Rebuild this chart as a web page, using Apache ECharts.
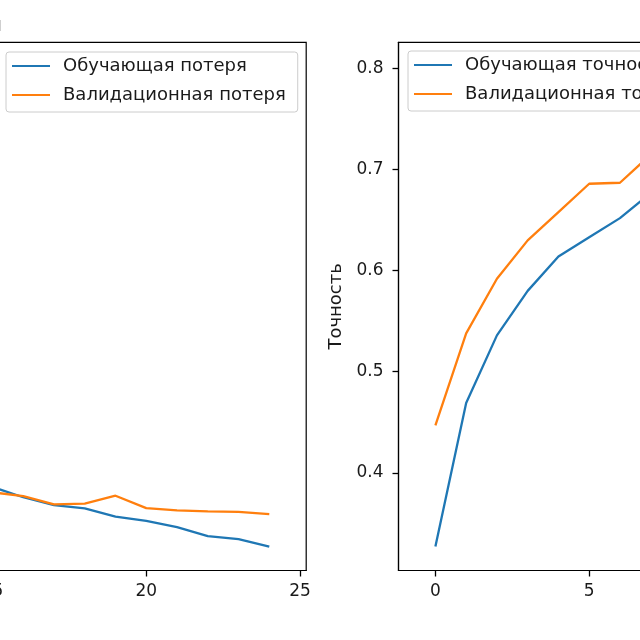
<!DOCTYPE html>
<html>
<head>
<meta charset="utf-8">
<script src="https://cdn.jsdelivr.net/npm/echarts@6/dist/echarts.min.js"></script>
<style>
html,body{margin:0;padding:0;background:#fff;overflow:hidden;}
#chart{width:640px;height:640px;}
</style>
</head>
<body>
<div id="chart"></div>
<script>
const epochs = [0,1,2,3,4,5,6,7,8,9,10,11,12,13,14,15,16,17,18,19,20,21,22,23,24];
const trainLoss = [1.85,1.47,1.30,1.18,1.09,1.02,0.97,0.92,0.88,0.85,0.82,0.795,0.77,0.75,0.74,0.729,0.702,0.681,0.672,0.650,0.639,0.622,0.598,0.590,0.570];
const valLoss = [1.55,1.30,1.15,1.06,0.98,0.90,0.89,0.84,0.81,0.79,0.77,0.76,0.745,0.73,0.725,0.715,0.705,0.683,0.685,0.706,0.673,0.667,0.664,0.663,0.657];
const trainAcc = [0.327,0.469,0.536,0.580,0.614,0.633,0.652,0.677,0.689,0.700,0.710,0.719,0.727,0.735,0.742,0.749,0.756,0.762,0.768,0.774,0.780,0.786,0.791,0.797,0.802];
const valAcc = [0.447,0.538,0.592,0.630,0.658,0.686,0.687,0.715,0.720,0.730,0.735,0.742,0.745,0.750,0.752,0.755,0.756,0.762,0.761,0.754,0.766,0.768,0.770,0.771,0.772];
const xTicks = [0,5,10,15,20,25];
const lossTicks = [0.6,0.8,1.0,1.2,1.4,1.6,1.8];
const accTicks = [0.4,0.5,0.6,0.7,0.8];
const names = {
  trainLoss: 'Обучающая потеря',
  valLoss: 'Валидационная потеря',
  trainAcc: 'Обучающая точность',
  valAcc: 'Валидационная точность'
};

const FONT = 'DejaVu Sans';
const BLUE = '#1f77b4', ORANGE = '#ff7f0e';
const pairs = arr => epochs.map((e, i) => [e, arr[i]]);

const gridW = 812;
const gridBase = {top: 42.3, bottom: 69.5, width: gridW, show: true, borderColor: '#000', borderWidth: 1.2,
  backgroundColor: 'transparent', containLabel: false, outerBoundsMode: 'none'};
const grids = [
  Object.assign({left: -505.8}, gridBase),
  Object.assign({left: 398.5}, gridBase)
];
const spine = {show: true, onZero: false, lineStyle: {color: '#000', width: 1.2}};
const tick = vals => ({show: true, inside: false, length: 6, lineStyle: {color: '#000', width: 1.3}, customValues: vals});

function xAxis(gi) {
  return {
    type: 'value', gridIndex: gi, min: -1.2, max: 25.2,
    axisLine: spine,
    axisTick: tick(xTicks),
    axisLabel: {show: true, margin: 13, color: '#1a1a1a', fontFamily: FONT, fontSize: 17, customValues: xTicks},
    splitLine: {show: false}
  };
}
function yAxis(gi, min, max, ticks, name, fmt) {
  return {
    type: 'value', gridIndex: gi, min: min, max: max,
    name: name, nameLocation: 'middle', nameGap: 52,
    nameTextStyle: {color: '#1a1a1a', fontFamily: FONT, fontSize: 18},
    axisLine: spine,
    axisTick: tick(ticks),
    axisLabel: {show: true, margin: 15, color: '#1a1a1a', fontFamily: FONT, fontSize: 17, customValues: ticks,
      formatter: v => v.toFixed(fmt)},
    splitLine: {show: false}
  };
}
function legend(left, top, data) {
  return {
    left: left, top: top, orient: 'vertical',
    data: data, icon: 'rect', itemWidth: 38, itemHeight: 2.2, itemGap: 11,
    padding: [5, 12, 8, 6],
    backgroundColor: 'rgba(255,255,255,0.8)', borderColor: '#cccccc', borderWidth: 1, borderRadius: 3,
    textStyle: {color: '#1a1a1a', fontFamily: FONT, fontSize: 18, lineHeight: 16, padding: [0, 0, 0, 8]},
    selectedMode: false
  };
}
function line(name, data, color, gi) {
  return {
    type: 'line', name: name, data: data, xAxisIndex: gi, yAxisIndex: gi,
    symbol: 'none', showSymbol: false, smooth: false,
    lineStyle: {color: color, width: 2.3}, itemStyle: {color: color},
    emphasis: {disabled: true}
  };
}

const chart = echarts.init(document.getElementById('chart'), null, {renderer: 'canvas'});
chart.setOption({
  animation: false,
  backgroundColor: '#fff',
  title: [
    {text: 'Потери при обучении', right: 638, top: 16, padding: 0,
      textStyle: {color: '#000', fontFamily: FONT, fontSize: 20, fontWeight: 'normal'}},
    {text: 'Точность при обучении', left: 700, top: 16, padding: 0,
      textStyle: {color: '#000', fontFamily: FONT, fontSize: 20, fontWeight: 'normal'}}
  ],
  grid: grids,
  xAxis: [xAxis(0), xAxis(1)],
  yAxis: [
    yAxis(0, 0.5065, 1.9158, lossTicks, 'Потеря', 1),
    yAxis(1, 0.3033, 0.826, accTicks, 'Точность', 1)
  ],
  legend: [
    legend(6, 52, [names.trainLoss, names.valLoss]),
    legend(408, 51, [names.trainAcc, names.valAcc])
  ],
  series: [
    line(names.trainLoss, pairs(trainLoss), BLUE, 0),
    line(names.valLoss, pairs(valLoss), ORANGE, 0),
    line(names.trainAcc, pairs(trainAcc), BLUE, 1),
    line(names.valAcc, pairs(valAcc), ORANGE, 1)
  ]
});
</script>
</body>
</html>
